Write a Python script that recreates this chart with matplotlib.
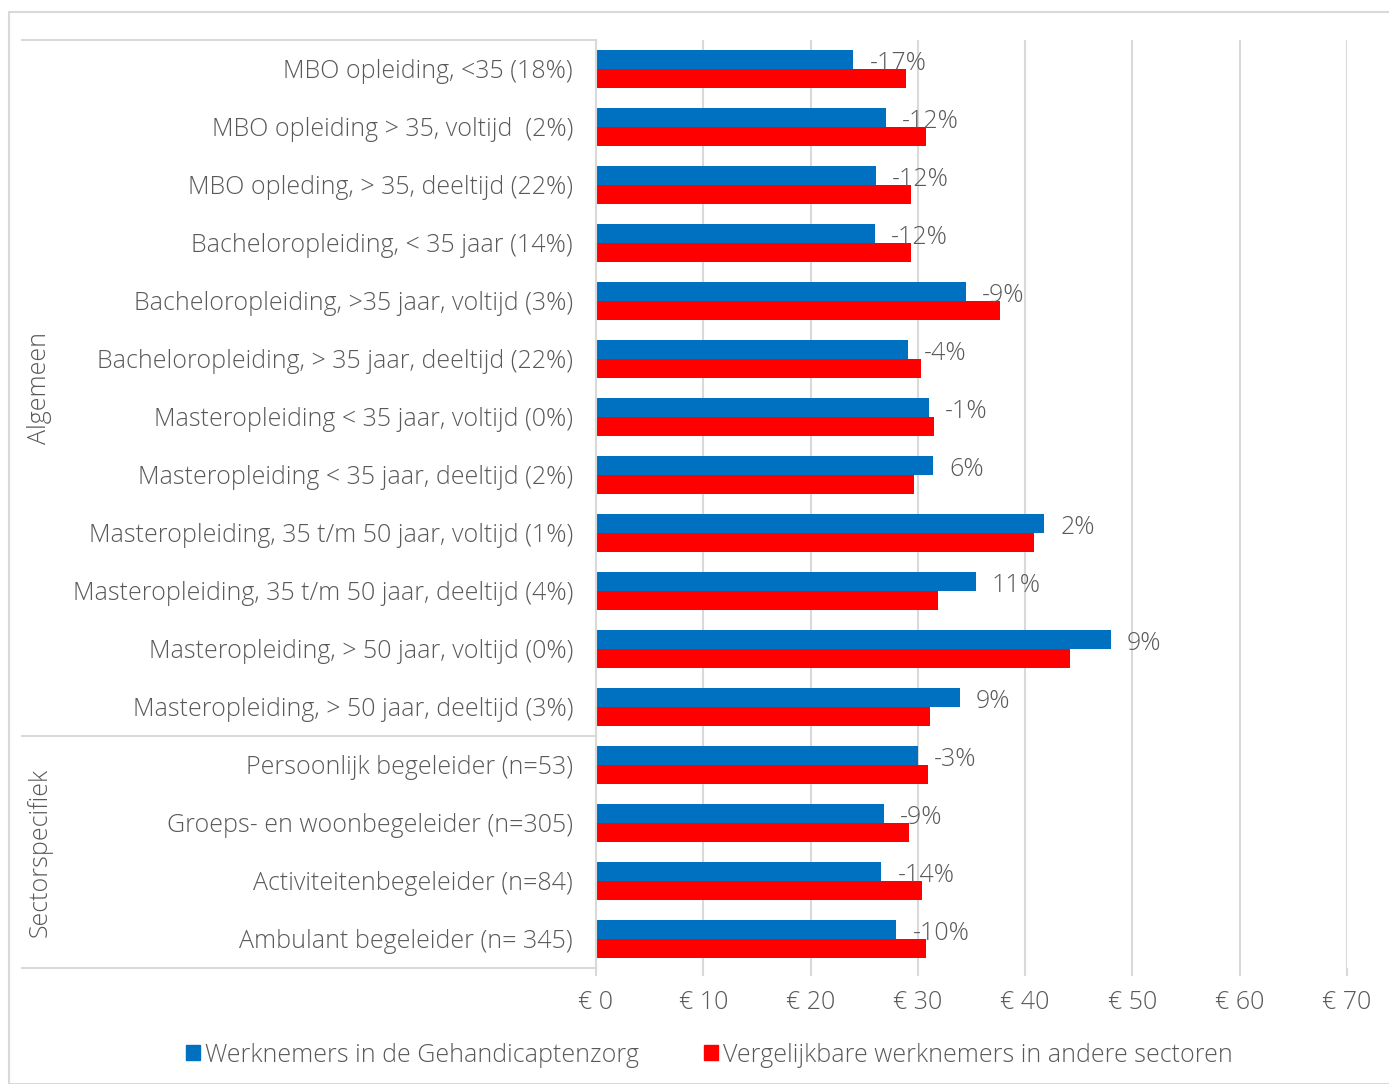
#!/usr/bin/env python3
"""Uurloon Gehandicaptenzorg vs vergelijkbare werknemers in andere sectoren."""

import matplotlib

matplotlib.use("Agg")
import matplotlib.pyplot as plt
import numpy as np
from matplotlib.lines import Line2D
from matplotlib.patches import Patch, Rectangle

categories = [
    "MBO opleiding, <35 (18%)",
    "MBO opleiding > 35, voltijd  (2%)",
    "MBO opleding, > 35, deeltijd (22%)",
    "Bacheloropleiding, < 35 jaar (14%)",
    "Bacheloropleiding, >35 jaar, voltijd (3%)",
    "Bacheloropleiding, > 35 jaar, deeltijd (22%)",
    "Masteropleiding < 35 jaar, voltijd (0%)",
    "Masteropleiding < 35 jaar, deeltijd (2%)",
    "Masteropleiding, 35 t/m 50 jaar, voltijd (1%)",
    "Masteropleiding, 35 t/m 50 jaar, deeltijd (4%)",
    "Masteropleiding, > 50 jaar, voltijd (0%)",
    "Masteropleiding, > 50 jaar, deeltijd (3%)",
    "Persoonlijk begeleider (n=53)",
    "Groeps- en woonbegeleider (n=305)",
    "Activiteitenbegeleider (n=84)",
    "Ambulant begeleider (n= 345)",
]
gehandicaptenzorg = [24.0, 27.0, 26.1, 26.0, 34.5, 29.1, 31.0, 31.4,
                     41.8, 35.4, 48.0, 33.9, 30.0, 26.8, 26.6, 28.0]
andere_sectoren = [28.9, 30.8, 29.4, 29.4, 37.7, 30.3, 31.5, 29.6,
                   40.8, 31.9, 44.2, 31.1, 30.9, 29.2, 30.4, 30.8]
verschil = ["-17%", "-12%", "-12%", "-12%", "-9%", "-4%", "-1%", "6%",
            "2%", "11%", "9%", "9%", "-3%", "-9%", "-14%", "-10%"]
groups = [("Algemeen", 12), ("Sectorspecifiek", 4)]
xticks = [0, 10, 20, 30, 40, 50, 60, 70]
series_names = ["Werknemers in de Gehandicaptenzorg",
                "Vergelijkbare werknemers in andere sectoren"]

BLUE = "#0070C0"
RED = "#FF0000"
GRID = "#D9D9D9"
TEXT = "#595959"
FS = 18

plt.rcParams["font.family"] = ["Open Sans", "DejaVu Sans"]
plt.rcParams["font.weight"] = "light"

W, H = 1389, 1084
fig = plt.figure(figsize=(W / 100, H / 100), dpi=100)

# plot area in pixels
left, right, top, bottom = 596, 1347, 40, 968
ax = fig.add_axes([left / W, 1 - bottom / H, (right - left) / W, (bottom - top) / H])

y = np.arange(len(categories))
h = 0.336
ax.barh(y - h / 2, gehandicaptenzorg, height=h, color=BLUE, zorder=3)
ax.barh(y + h / 2, andere_sectoren, height=h, color=RED, zorder=3)

for yi, v, lab in zip(y, gehandicaptenzorg, verschil):
    ax.annotate(lab, (v, yi - h / 2), xytext=(16, -4), textcoords="offset pixels",
                ha="left", va="center", fontsize=FS, color=TEXT, zorder=4)

ax.set_xlim(0, 70)
ax.set_ylim(len(categories) - 0.5, -0.5)
ax.set_xticks(xticks)
ax.set_xticklabels([f"€ {t}" for t in xticks], fontsize=FS, color=TEXT)
ax.set_yticks(y)
ax.set_yticklabels(categories, fontsize=FS, color=TEXT)
ax.tick_params(axis="y", length=0, pad=16.5)
ax.tick_params(axis="x", length=6, color=GRID, width=1.5, pad=10)
ax.grid(axis="x", color=GRID, linewidth=1.5, zorder=0)
for s in ["top", "right", "bottom"]:
    ax.spines[s].set_visible(False)
ax.spines["left"].set_color(GRID)
ax.spines["left"].set_linewidth(1.5)
ax.spines["left"].set_zorder(5)

# multi-level category axis: group separators and group names
x0 = 22 / W
xa = left / W
ypos = top
for name, n in groups:
    y_top = ypos
    y_bot = ypos + n * (bottom - top) / len(categories)
    fig.add_artist(Line2D([x0, xa], [1 - y_top / H] * 2, color=GRID, lw=1.5))
    fig.text(40 / W, 1 - (y_top + y_bot) / 2 / H, name, rotation=90,
             ha="center", va="center", fontsize=FS, color=TEXT)
    ypos = y_bot
fig.add_artist(Line2D([x0, xa], [1 - bottom / H] * 2, color=GRID, lw=1.5))

# chart border
fig.add_artist(Rectangle((9 / W, 0), 1, 1 - 12 / H, transform=fig.transFigure,
                         fill=False, edgecolor=GRID, lw=1.5))

handles = [Patch(color=BLUE), Patch(color=RED)]
fig.legend(handles, series_names, loc="center", bbox_to_anchor=(709 / W, 1 - 1055 / H),
           ncol=2, frameon=False, fontsize=FS, labelcolor=TEXT,
           handlelength=0.56, handleheight=0.56, handletextpad=0.2, columnspacing=2.6)

fig.savefig("out.png", dpi=100)
